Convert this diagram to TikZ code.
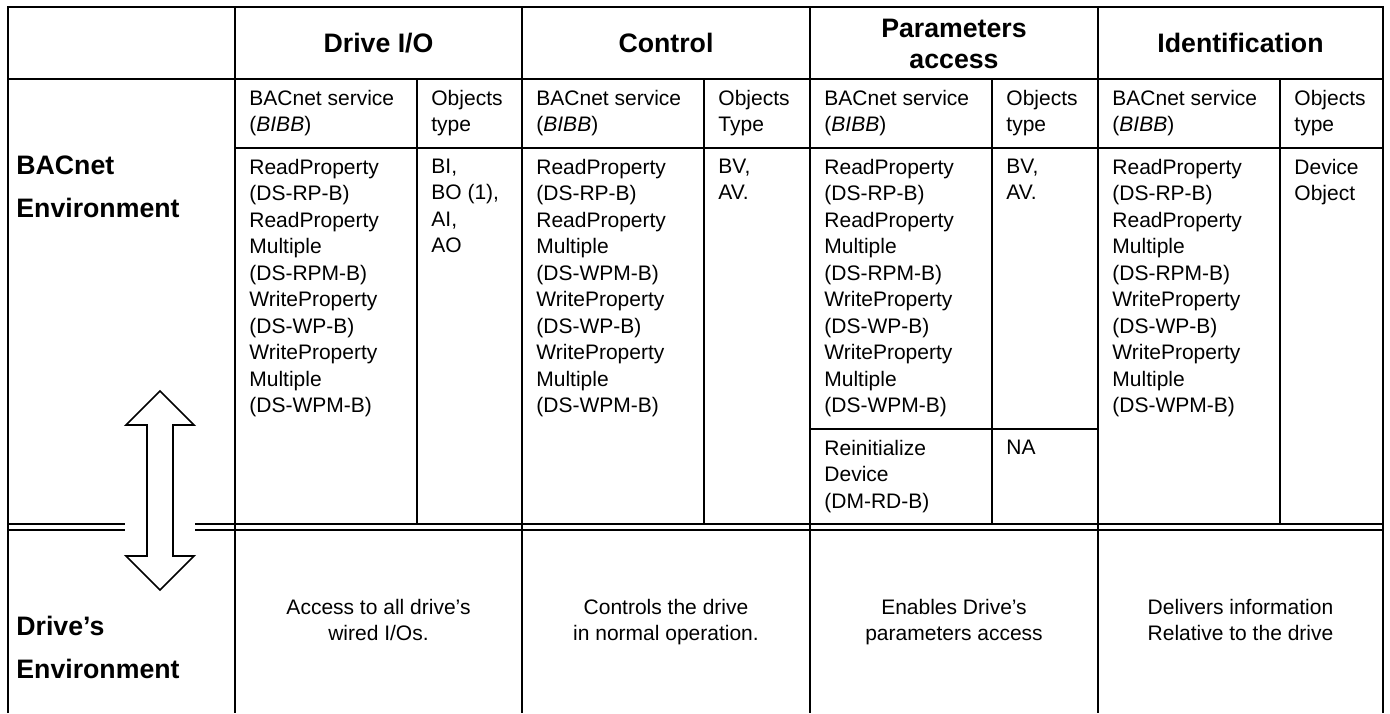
\documentclass[tikz,border=0pt]{standalone}
\usepackage{fontspec}
\setmainfont{Liberation Sans}
\begin{document}
\begin{tikzpicture}[x=0.5pt, y=-0.5pt,
    rule/.style={draw=black, line width=1pt},
    cell/.style={anchor=north west, align=left, inner sep=0pt, font=\fontsize{10.5}{13.25}\selectfont},
    note/.style={anchor=north, align=center, inner sep=0pt, font=\fontsize{10.5}{13.25}\selectfont},
    head/.style={align=center, inner sep=0pt, font=\fontsize{13.35}{15.5}\selectfont\bfseries},
    side/.style={anchor=north west, align=left, inner sep=0pt, font=\fontsize{13.35}{21.5}\selectfont\bfseries}]

    \useasboundingbox (0,0) rectangle (1390,713);

    % Table frame and main rules
    \draw[rule] (8,713) -- (8,7) -- (1383,7) -- (1383,713);
    \draw[rule] (8,79) -- (1383,79);
    \draw[rule] (235,148) -- (1383,148);
    \draw[rule] (235,7) -- (235,713);
    \draw[rule] (522,7) -- (522,713);
    \draw[rule] (810,7) -- (810,713);
    \draw[rule] (1098,7) -- (1098,713);
    % sub columns (service / objects)
    \draw[rule] (417,79) -- (417,524);
    \draw[rule] (704,79) -- (704,524);
    \draw[rule] (992,79) -- (992,524);
    \draw[rule] (1280,79) -- (1280,524);
    \draw[rule] (810,429) -- (1098,429); % reinitialize row
    % double rule, cut where the arrow passes
    \draw[rule] (8,524) -- (125,524) (195,524) -- (1383,524);
    \draw[rule] (8,530) -- (125,530) (195,530) -- (1383,530);

    % Up/down arrow between the two environments
    \draw[line width=0.85pt, fill=white] (160,391) -- (194,425) -- (173,425) -- (173,556) -- (194,556) -- (160,590)
        -- (126,556) -- (147,556) -- (147,425) -- (126,425) -- cycle;

    % Column heads
    \node[head] (drvio) at (378.5,43) {Drive I/O};
    \node[head] (ctrl) at (666,43) {Control};
    \node[head] (param) at (954,44) {Parameters\\access};
    \node[head] (ident) at (1240.5,43) {Identification};

    % Row heads
    \node[side] (bacenv) at (16,155.5) {BACnet\\Environment};
    \node[side] (drvenv) at (16,615.5) {Drive’s\\Environment};

    % Sub heads
    \node[cell] (drvsvc) at (249,89.5) {BACnet service\\(\textit{BIBB})};
    \node[cell] (drvobj) at (431,89.5) {Objects\\type};
    \node[cell] (ctrlsvc) at (536,89.5) {BACnet service\\(\textit{BIBB})};
    \node[cell] (ctrlobj) at (718,89.5) {Objects\\Type};
    \node[cell] (paramsvc) at (824,89.5) {BACnet service\\(\textit{BIBB})};
    \node[cell] (paramobj) at (1006,89.5) {Objects\\type};
    \node[cell] (identsvc) at (1112,89.5) {BACnet service\\(\textit{BIBB})};
    \node[cell] (identobj) at (1294,89.5) {Objects\\type};

    % Services and objects
    \node[cell] (drvlist) at (249,158.5) {ReadProperty\\(DS-RP-B)\\ReadProperty\\Multiple\\(DS-RPM-B)\\
        WriteProperty\\(DS-WP-B)\\WriteProperty\\Multiple\\(DS-WPM-B)};
    \node[cell] (drvtypes) at (431,158.5) {BI,\\BO (1),\\AI,\\AO};
    \node[cell] (ctrllist) at (536,158.5) {ReadProperty\\(DS-RP-B)\\ReadProperty\\Multiple\\(DS-WPM-B)\\
        WriteProperty\\(DS-WP-B)\\WriteProperty\\Multiple\\(DS-WPM-B)};
    \node[cell] (ctrltypes) at (718,158.5) {BV,\\AV.};
    \node[cell] (paramlist) at (824,158.5) {ReadProperty\\(DS-RP-B)\\ReadProperty\\Multiple\\(DS-RPM-B)\\
        WriteProperty\\(DS-WP-B)\\WriteProperty\\Multiple\\(DS-WPM-B)};
    \node[cell] (paramtypes) at (1006,158.5) {BV,\\AV.};
    \node[cell] (reinit) at (824,439.5) {Reinitialize\\Device\\(DM-RD-B)};
    \node[cell] (reinittype) at (1006,439.5) {NA};
    \node[cell] (identlist) at (1112,158.5) {ReadProperty\\(DS-RP-B)\\ReadProperty\\Multiple\\(DS-RPM-B)\\
        WriteProperty\\(DS-WP-B)\\WriteProperty\\Multiple\\(DS-WPM-B)};
    \node[cell] (identtypes) at (1294,158.5) {Device\\Object};

    % Drive side descriptions
    \node[note] (drvnote) at (378.5,598.5) {Access to all drive’s\\wired I/Os.};
    \node[note] (ctrlnote) at (666,598.5) {Controls the drive\\in normal operation.};
    \node[note] (paramnote) at (954,598.5) {Enables Drive’s\\parameters access};
    \node[note] (identnote) at (1240.5,598.5) {Delivers information\\Relative to the drive};
\end{tikzpicture}
\end{document}
